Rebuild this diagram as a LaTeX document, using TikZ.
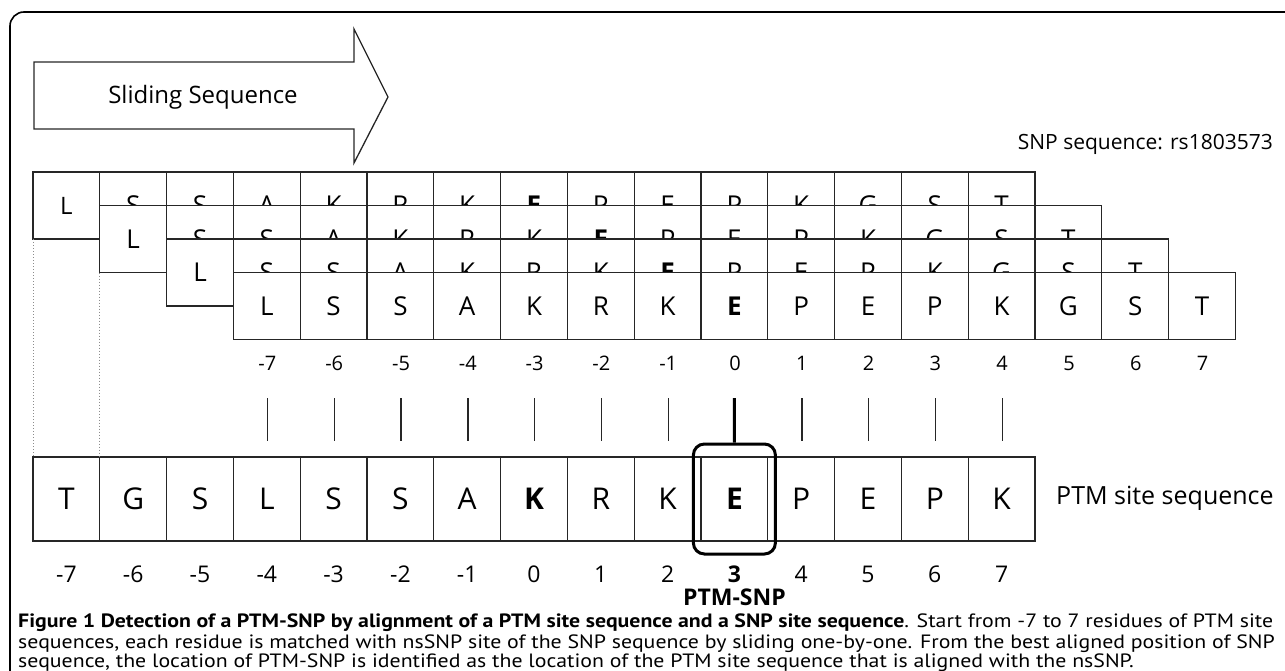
\documentclass[tikz,border=0pt]{standalone}
\usepackage{fontspec}
\setmainfont{Open Sans}
\newfontfamily\capfont{PT Sans}
\newsavebox\capA
\begin{document}
\sbox\capA{\capfont\fontsize{18}{22}\selectfont{\bfseries Figure 1 Detection of a PTM-SNP by alignment of a PTM site sequence and a SNP site sequence}. Start from -7 to 7 residues of PTM site}%
\begin{tikzpicture}[x=1pt,y=-1pt,
  cell/.style={draw=black!85, fill=white, line width=1.3pt, minimum width=66.8pt, minimum height=67pt, inner sep=0pt, outer sep=0pt, anchor=north west, font=\fontsize{26}{26}\selectfont},
  bcell/.style={cell, minimum height=84pt, font=\fontsize{30}{30}\selectfont},
  num/.style={inner sep=0pt, font=\fontsize{20}{20}\selectfont},
  bnum/.style={inner sep=0pt, font=\fontsize{23}{23}\selectfont},
  tickline/.style={line width=1.4pt, black!85},
  lbl/.style={inner sep=0pt, font=\fontsize{23}{23}\selectfont},
  captext/.style={inner sep=0pt, anchor=base west},
  guide/.style={dotted, line width=1pt, black!45},
]
\useasboundingbox (0,0) rectangle (1285,671);
% frame
\draw[line width=1.6pt, rounded corners=14pt] (10,690) -- (10,12) -- (1300,12);
% sliding arrow
\draw[line width=1.3pt, black!85] (34,62) -- (354,62) -- (354,29) -- (388,97) -- (354,163) -- (354,129) -- (34,129) -- cycle;
\node[lbl, font=\fontsize{24}{24}\selectfont] (slide) at (203,97) {Sliding Sequence};
\node[lbl, anchor=east, font=\fontsize{21}{21}\selectfont] (snp) at (1273,144) {SNP sequence: rs1803573};
% sliding rows
\def\seq{L,S,S,A,K,R,K,E,P,E,P,K,G,S,T}
\foreach \r in {0,...,3} {
  \foreach \l [count=\i] in \seq {
    \pgfmathsetmacro\xx{33+(\r+\i-1)*66.8}
    \pgfmathsetmacro\yy{172+\r*33.5}
    \node[cell] (s\r-\i) at (\xx,\yy) {\ifnum\i=8 \bfseries\fi\ifnum\r\i=01 \fontsize{24}{24}\selectfont\fi\l};
  }
}
% numbers above
\foreach \k [count=\j from 0] in {-7,...,7} {
  \node[num] (tn\j) at (267.4+\j*66.8,363) {\k};
}
% PTM row
\def\pseq{T,G,S,L,S,S,A,K,R,K,E,P,E,P,K}
\foreach \l [count=\i] in \pseq {
  \pgfmathsetmacro\xx{33+(\i-1)*66.8}
  \node[bcell] (b\i) at (\xx,457) {\ifnum\i=8 \bfseries\fi\ifnum\i=11 \bfseries\fi\l};
}
\foreach \k [count=\j from 0] in {-7,...,7} {
  \node[bnum] (bn\j) at (66.4+\j*66.8,574) {\ifnum\j=10 \bfseries\fi\k};
}
% guide dotted lines
\draw[guide] (s0-1.south west) -- (b1.north west);
\draw[guide] (s1-1.south west) -- (b2.north west);
% ticks
\foreach \j in {0,...,11} {
  \ifnum\j=7 \else
  \draw[tickline] (267.4+\j*66.8,398) -- (267.4+\j*66.8,441);
  \fi
}
% highlight
\node[draw, line width=3pt, rounded corners=11pt, minimum width=82pt, minimum height=110pt, inner sep=0pt] (hl) at (b11.center) {};
\coordinate (bt) at (734.4,398);
\draw[line width=3pt] (bt) -- (hl.north);
\node[lbl, font=\fontsize{23}{23}\selectfont\bfseries] (ptmsnp) at (734.4,597) {PTM-SNP};
\node[lbl, anchor=west, font=\fontsize{25}{25}\selectfont] (ptm) at (1056,498) {PTM site sequence};
% caption
\pgfmathsetmacro\cs{1255/\wd\capA}
\node[captext] (c1) at (18,627.5) {\scalebox{\cs}[1.07]{\usebox\capA}};
\node[captext] (c2) at (18,648) {\scalebox{\cs}[1.07]{\capfont\fontsize{18}{22}\selectfont sequences, each residue is matched with nsSNP site of the SNP sequence by sliding one-by-one. From the best aligned position of SNP}};
\node[captext] (c3) at (18,667.5) {\scalebox{\cs}[1.07]{\capfont\fontsize{18}{22}\selectfont sequence, the location of PTM-SNP is identified as the location of the PTM site sequence that is aligned with the nsSNP.}};
\end{tikzpicture}
\end{document}
